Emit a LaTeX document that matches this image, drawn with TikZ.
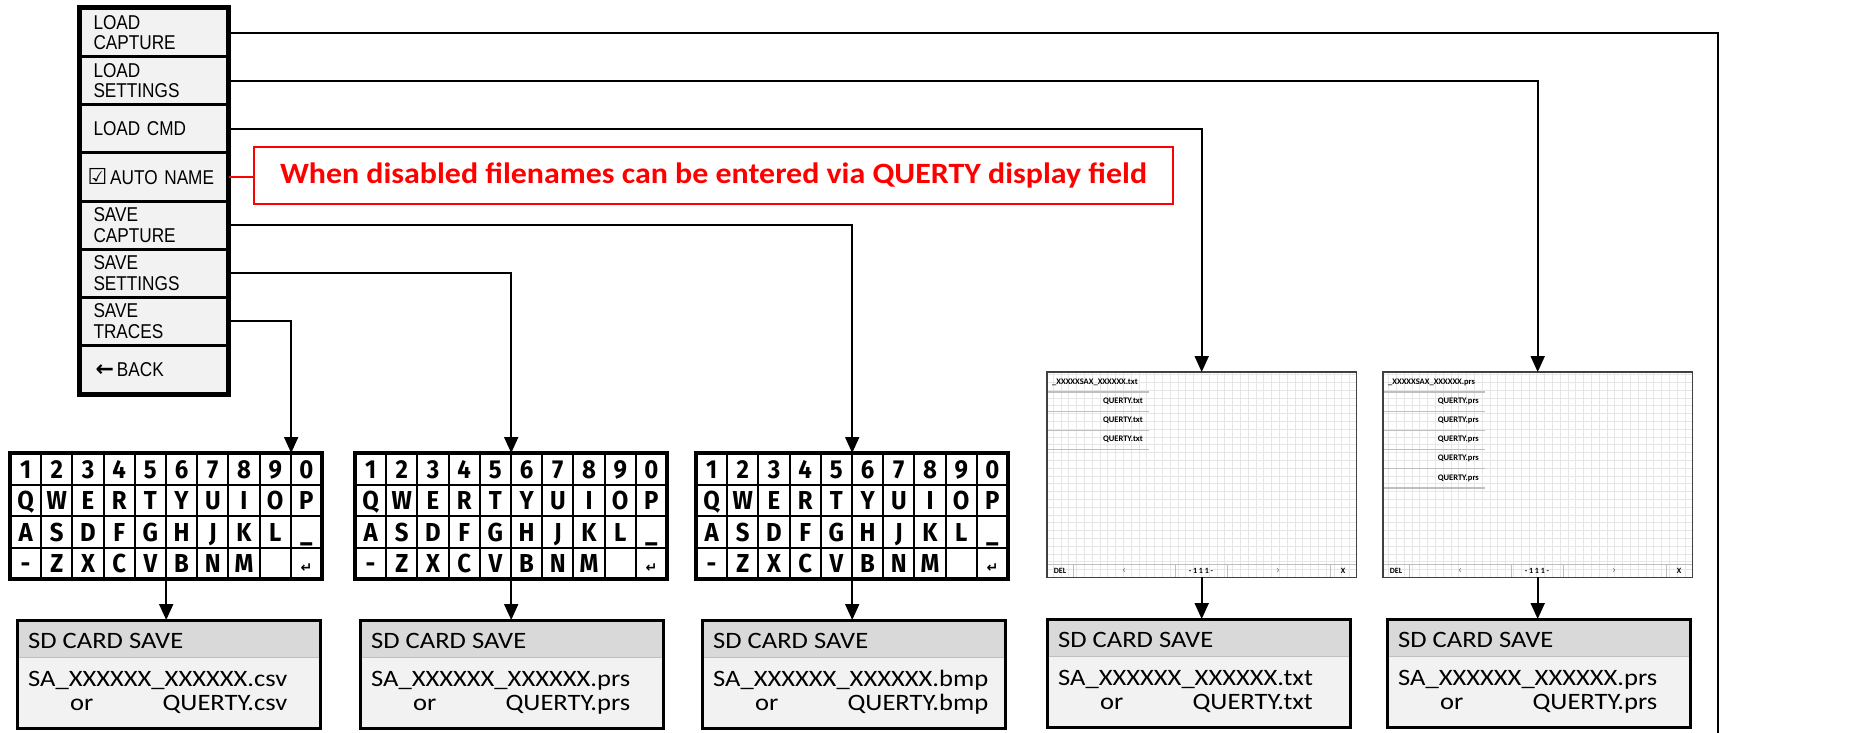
\documentclass[tikz,border=0pt]{standalone}
\usepackage{fontspec}
\usepackage{graphicx}
\usetikzlibrary{arrows.meta,calc}
\setmainfont{Liberation Sans}
\newfontfamily\menufont[FakeStretch=0.86]{Liberation Sans}
\newfontfamily\sdfont[FakeStretch=1.13]{Carlito}
\newfontfamily\calfont{Carlito}
\newfontfamily\kbfont[FakeStretch=0.92]{Fira Sans}
\newfontfamily\symfont{DejaVu Sans}
\definecolor{menugray}{HTML}{F2F2F2}
\definecolor{hdrgray}{HTML}{D9D9D9}
\definecolor{bodygray}{HTML}{F2F2F2}
\definecolor{gridc}{HTML}{E6E6E6}
\definecolor{sepc}{HTML}{BFBFBF}
\definecolor{notered}{HTML}{FF0000}
\definecolor{scrborder}{HTML}{404040}

\tikzset{
  mitem/.style={draw, line width=3pt, fill=menugray, minimum width=147pt, minimum height=48.125pt,
    text width=121pt, inner xsep=13pt, inner ysep=0pt, align=left, anchor=north west,
    font=\menufont\fontsize{20}{20.7}\selectfont},
  conn/.style={line width=2pt},
  arr/.style={conn, -{Triangle[width=14pt,length=16pt]}},
  kbnode/.style={minimum width=312pt, minimum height=126pt, inner sep=0pt, anchor=north west, fill=white},
  key/.style={font=\kbfont\bfseries\fontsize{26}{26}\selectfont, text height=18.5pt, text depth=0pt, inner sep=0pt},
  kbin/.style={line width=2pt},
  kbout/.style={line width=4pt},
  sdb/.style={minimum width=303pt, minimum height=108pt, inner sep=0pt, anchor=north west, fill=bodygray},
  sdtxt/.style={font=\sdfont\fontsize{23.5}{23.5}\selectfont, inner sep=0pt},
  scrn/.style={minimum width=309pt, minimum height=205pt, inner sep=0pt, anchor=north west, fill=white},
  ftxt/.style={font=\calfont\bfseries\fontsize{8.5}{8.5}\selectfont, inner sep=0pt},
  btxt/.style={font=\calfont\bfseries\fontsize{8}{8}\selectfont, inner sep=0pt},
  navtxt/.style={font=\symfont\fontsize{10}{10}\selectfont, inner sep=0pt, text=black!55},
  sepl/.style={line width=1.1pt, draw=sepc},
  barl/.style={line width=0.7pt, draw=sepc},
}

\newcommand{\kbd}[3]{%
  \node[kbnode] (#1) at (#2,#3) {};
  \foreach \k [count=\i from 0] in {1,2,3,4,5,6,7,8,9,0}
    \node[key] at (#2+15.6+31.2*\i,#3+15.75) {\k};
  \foreach \k [count=\i from 0] in {Q,W,E,R,T,Y,U,I,O,P}
    \node[key] at (#2+15.6+31.2*\i,#3+47.25) {\k};
  \foreach \k [count=\i from 0] in {A,S,D,F,G,H,J,K,L,\_}
    \node[key] at (#2+15.6+31.2*\i,#3+78.75) {\k};
  \foreach \k [count=\i from 0] in {-,Z,X,C,V,B,N,M,{},{\symfont\bfseries\fontsize{14}{14}\selectfont ↵}}
    \node[key] at (#2+15.6+31.2*\i,#3+110.25) {\k};
  \foreach \i in {1,...,9} \draw[kbin] (#2+31.2*\i,#3) -- ++(0,126);
  \foreach \j in {1,2,3} \draw[kbin] (#2,#3+31.5*\j) -- ++(312,0);
  \draw[kbout] (#1.north west) rectangle (#1.south east);
}

\newcommand{\sdbox}[4]{%
  \node[sdb] (#1) at (#2,#3) {};
  \fill[hdrgray] (#1.north west) rectangle ($(#1.north east)+(0,37)$);
  \draw[line width=1pt, draw=sepc] ($(#1.north west)+(0,37)$) -- ($(#1.north east)+(0,37)$);
  \node[sdtxt, anchor=base west] (#1h) at ($(#1.north west)+(11,28)$) {SD CARD SAVE};
  \node[sdtxt, anchor=base west] (#1l) at ($(#1.north west)+(11,66)$) {SA\_XXXXXX\_XXXXXX.#4};
  \node[sdtxt, anchor=base west] (#1o) at ($(#1.north west)+(53,90)$) {or};
  \node[sdtxt, anchor=base east] (#1q) at (#1o.base -| #1l.east) {QUERTY.#4};
  \draw[line width=3pt] (#1.north west) rectangle (#1.south east);
}

\newcommand{\scr}[5]{%
  \node[scrn] (#1) at (#2,#3) {};
  \begin{scope}
    \clip (#1.south west) rectangle (#1.north east);
    \draw[gridc, line width=0.5pt] (#1.south west) grid[step=7.8pt] (#1.north east);
  \end{scope}
  \node[ftxt, anchor=west] at ($(#1.north west)+(5,10)$) {\_XXXXXSAX\_XXXXXX.#4};
  \foreach \j in {1,...,#5}
    \node[ftxt, anchor=east] at ($(#1.north west)+(96,10+19.2*\j)$) {QUERTY.#4};
  \foreach \j in {0,...,#5}
    \draw[sepl] ($(#1.north west)+(0,20+19.2*\j)$) -- ++(102,0);
  \draw[barl] ($(#1.south west)+(0,-13)$) -- ($(#1.south east)+(0,-13)$);
  \foreach \dx in {26,128,180,283}
    \draw[barl] ($(#1.south west)+(\dx,0)$) -- ++(0,-13);
  \node[btxt] at ($(#1.south west)+(13,-6.5)$) {DEL};
  \node[navtxt] at ($(#1.south west)+(77,-6.5)$) {‹};
  \node[btxt] at ($(#1.south west)+(154,-6.5)$) {- 1 1 1 -};
  \node[navtxt] at ($(#1.south west)+(231,-6.5)$) {›};
  \node[btxt] at ($(#1.south west)+(296,-6.5)$) {X};
  \draw[line width=1.5pt, draw=scrborder] (#1.north west) rectangle (#1.south east);
}

\begin{document}
\begin{tikzpicture}[x=1pt, y=-1pt]
\useasboundingbox[fill=white] (0,0) rectangle (1875,733);

% menu
\node[mitem] (m0) at (79,7) {LOAD\\CAPTURE};
\node[mitem] (m1) at (79,55.125) {LOAD\\SETTINGS};
\node[mitem] (m2) at (79,103.25) {LOAD CMD};
\node[mitem] (m3) at (79,151.375) {\hspace*{-6pt}{\symfont\bfseries\fontsize{22}{22}\selectfont ☑}\hspace{3pt}AUTO NAME};
\node[mitem] (m4) at (79,199.5) {SAVE\\CAPTURE};
\node[mitem] (m5) at (79,247.625) {SAVE\\SETTINGS};
\node[mitem] (m6) at (79,295.75) {SAVE\\TRACES};
\node[mitem] (m7) at (79,343.875) {\hspace*{2pt}{\symfont\bfseries\fontsize{22}{22}\selectfont ←}\hspace{3pt}BACK};
\draw[line width=4.5pt] (m0.north west) rectangle (m7.south east);

% note
\node[draw=notered, line width=2pt, fill=white, minimum width=919pt, minimum height=57pt,
      inner sep=0pt, anchor=north west, text=notered,
      font=\calfont\bfseries\fontsize{29.5}{29.5}\selectfont] (note) at (253,146)
      {\resizebox{867pt}{\height}{When disabled filenames can be entered via QUERTY display field}};

% keyboards
\kbd{kb1}{10}{453}
\kbd{kb2}{355}{453}
\kbd{kb3}{696}{453}

% screens
\scr{s1}{1047}{372}{txt}{3}
\scr{s2}{1383}{372}{prs}{5}

% SD boxes
\sdbox{sd1}{17}{620}{csv}
\sdbox{sd2}{360}{620}{prs}
\sdbox{sd3}{702}{620}{bmp}
\sdbox{sd4}{1047}{619}{txt}
\sdbox{sd5}{1387}{619}{prs}

% connectors
\coordinate (lcend) at (1718,745);
\draw[conn] (m0.east) -| (lcend);
\draw[arr] (m1.east) -| (s2.north);
\draw[arr] (m2.east) -| (s1.north);
\draw[conn, draw=notered] (m3.east) -- (m3.east -| note.west);
\draw[arr] (m4.east) -| (kb3.north);
\draw[arr] (m5.east) -| (kb2.north);
\draw[arr] (m6.east) -| ($(kb1.north west)!0.9!(kb1.north east)$);

\draw[arr] (kb1.south) -- (kb1.south |- sd1.north);
\draw[arr] (kb2.south) -- (kb2.south |- sd2.north);
\draw[arr] (kb3.south) -- (kb3.south |- sd3.north);
\draw[arr] (s1.south) -- (s1.south |- sd4.north);
\draw[arr] (s2.south) -- (s2.south |- sd5.north);
\end{tikzpicture}
\end{document}
